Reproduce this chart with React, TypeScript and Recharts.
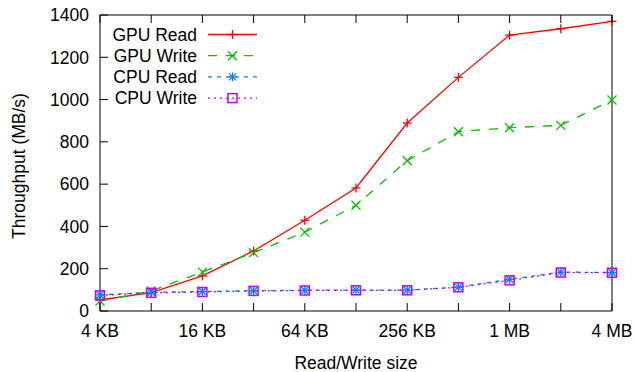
import { LineChart, Line, XAxis, YAxis, Legend } from "recharts";

const sizes = ["4 KB", "8 KB", "16 KB", "32 KB", "64 KB", "128 KB", "256 KB", "512 KB", "1 MB", "2 MB", "4 MB"];
const gpuRead = [52, 87, 166, 284, 429, 582, 889, 1105, 1305, 1335, 1370];
const gpuWrite = [47, 95, 184, 276, 373, 500, 711, 848, 867, 878, 998];
const cpuRead = [76, 88, 92, 96, 98, 99, 99, 113, 150, 184, 182];
const cpuWrite = [74, 86, 90, 95, 97, 98, 98, 112, 145, 182, 181];
const yTicks = [0, 200, 400, 600, 800, 1000, 1200, 1400];

const series = [
  { key: "gpuRead", name: "GPU Read", color: "#ff0000", dash: undefined, marker: "plus" },
  { key: "gpuWrite", name: "GPU Write", color: "#00c000", dash: "9 9", marker: "cross" },
  { key: "cpuRead", name: "CPU Read", color: "#0080ff", dash: "4 5", marker: "star" },
  { key: "cpuWrite", name: "CPU Write", color: "#c000ff", dash: "2 4", marker: "square" },
];

const data = sizes.map((size, i) => ({
  size,
  gpuRead: gpuRead[i],
  gpuWrite: gpuWrite[i],
  cpuRead: cpuRead[i],
  cpuWrite: cpuWrite[i],
}));

const font = "'Liberation Sans', Arial, Helvetica, sans-serif";
const FS = 17.5;
const TICK = 8;

function Marker({ cx, cy, type, color }: { cx: number; cy: number; type: string; color: string }) {
  const s = 4.5;
  if (type === "plus")
    return (
      <g stroke={color} strokeWidth={1.3}>
        <line x1={cx - s} y1={cy} x2={cx + s} y2={cy} />
        <line x1={cx} y1={cy - s} x2={cx} y2={cy + s} />
      </g>
    );
  if (type === "cross")
    return (
      <g stroke={color} strokeWidth={1.3}>
        <line x1={cx - s} y1={cy - s} x2={cx + s} y2={cy + s} />
        <line x1={cx - s} y1={cy + s} x2={cx + s} y2={cy - s} />
      </g>
    );
  if (type === "star")
    return (
      <g stroke={color} strokeWidth={1.3}>
        <line x1={cx - s} y1={cy} x2={cx + s} y2={cy} />
        <line x1={cx} y1={cy - s} x2={cx} y2={cy + s} />
        <line x1={cx - 3.5} y1={cy - 3.5} x2={cx + 3.5} y2={cy + 3.5} />
        <line x1={cx - 3.5} y1={cy + 3.5} x2={cx + 3.5} y2={cy - 3.5} />
      </g>
    );
  return <rect x={cx - 4.5} y={cy - 4.5} width={9} height={9} fill="none" stroke={color} strokeWidth={1.5} />;
}

const BottomTick = (props: any) => {
  const { x, y, index, payload } = props;
  return (
    <g>
      <line x1={x} y1={y} x2={x} y2={y - TICK} stroke="#000" />
      {index % 2 === 0 && (
        <text x={x} y={y + 26} textAnchor="middle" fontSize={FS} fontFamily={font} fill="#000">
          {payload.value}
        </text>
      )}
    </g>
  );
};

const TopTick = (props: any) => {
  const { x, y } = props;
  return <line x1={x} y1={y} x2={x} y2={y + TICK} stroke="#000" />;
};

const LeftTick = (props: any) => {
  const { x, y, payload } = props;
  return (
    <g>
      <line x1={x} y1={y} x2={x + TICK} y2={y} stroke="#000" />
      <text x={x - 11} y={y} dy="0.36em" textAnchor="end" fontSize={FS} fontFamily={font} fill="#000">
        {payload.value}
      </text>
    </g>
  );
};

const RightTick = (props: any) => {
  const { x, y } = props;
  return <line x1={x} y1={y} x2={x - TICK} y2={y} stroke="#000" />;
};

const LegendBox = () => (
  <svg width={270} height={110} style={{ display: "block" }}>
    {series.map((s, i) => {
      const y = 34.5 + i * 21.2;
      return (
        <g key={s.key}>
          <text x={197} y={y} dy="0.36em" textAnchor="end" fontSize={FS} fontFamily={font} fill="#000">
            {s.name}
          </text>
          <line x1={208} y1={y} x2={257} y2={y} stroke={s.color} strokeWidth={1.3} strokeDasharray={s.dash} />
          <Marker cx={232.5} cy={y} type={s.marker} color={s.color} />
        </g>
      );
    })}
  </svg>
);

export default function App() {
  return (
    <div style={{ position: "absolute", left: 0, top: 0, width: 635, height: 372, background: "#fff" }}>
      <LineChart width={635} height={372} data={data} margin={{ top: 5, right: 10, bottom: 0, left: 0 }}>
        <XAxis
          xAxisId="b"
          dataKey="size"
          height={61}
          interval={0}
          tickSize={0}
          tickMargin={0}
          tickLine={false}
          tick={<BottomTick />}
          axisLine={{ stroke: "#000" }}
          label={{ value: "Read/Write size", position: "insideBottom", offset: 3, fontSize: FS, fontFamily: font, fill: "#000" }}
        />
        <XAxis
          xAxisId="t"
          dataKey="size"
          orientation="top"
          height={10}
          interval={0}
          tickSize={0}
          tickMargin={0}
          tickLine={false}
          tick={<TopTick />}
          axisLine={{ stroke: "#000" }}
        />
        <YAxis
          yAxisId="l"
          width={100}
          domain={[0, 1400]}
          ticks={yTicks}
          interval={0}
          tickSize={0}
          tickMargin={0}
          tickLine={false}
          tick={<LeftTick />}
          axisLine={{ stroke: "#000" }}
          label={{
            content: (p: any) => {
              const vb = p.viewBox;
              const cx = 25;
              const cy = vb.y + vb.height / 2 + 3;
              return (
                <text x={cx} y={cy} transform={`rotate(-90 ${cx} ${cy})`} textAnchor="middle" fontSize={FS} fontFamily={font} fill="#000">
                  Throughput (MB/s)
                </text>
              );
            },
          }}
        />
        <YAxis
          yAxisId="r"
          orientation="right"
          width={13}
          domain={[0, 1400]}
          ticks={yTicks}
          interval={0}
          tickSize={0}
          tickMargin={0}
          tickLine={false}
          tick={<RightTick />}
          axisLine={{ stroke: "#000" }}
        />
        <Legend
          layout="vertical"
          align="center"
          verticalAlign="middle"
          wrapperStyle={{ position: "absolute", left: 0, top: 0, width: 270 }}
          content={<LegendBox />}
        />
        {series.map((s) => (
          <Line
            key={s.key}
            xAxisId="b"
            yAxisId="l"
            dataKey={s.key}
            name={s.name}
            type="linear"
            stroke={s.color}
            strokeWidth={1.3}
            strokeDasharray={s.dash}
            isAnimationActive={false}
            dot={(p: any) => <Marker key={`${s.key}-${p.index}`} cx={p.cx} cy={p.cy} type={s.marker} color={s.color} />}
            activeDot={false}
          />
        ))}
      </LineChart>
    </div>
  );
}
